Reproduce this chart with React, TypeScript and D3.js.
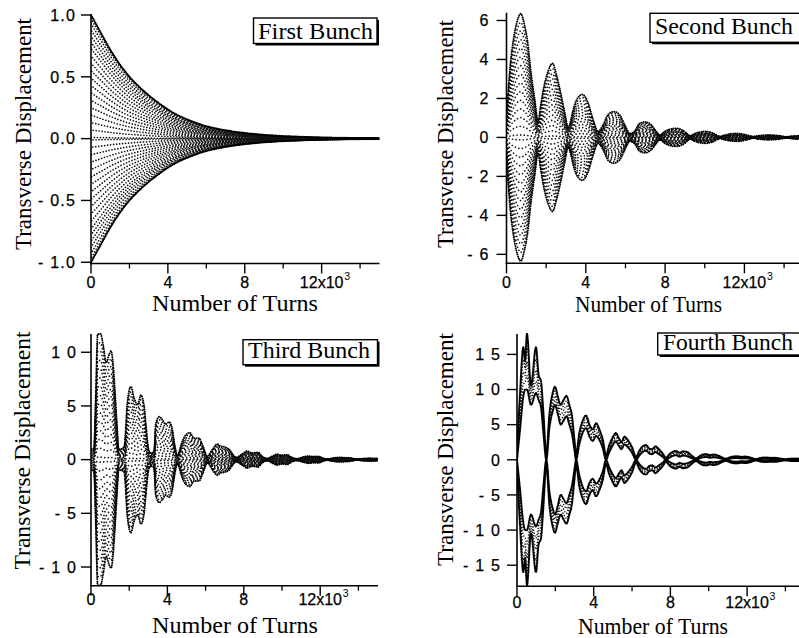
import React from "react";
import * as d3 from "d3";

const W = 799;
const H = 638;
const SERIF = "'Liberation Serif', 'Times New Roman', Times, serif";
const SANS = "'Liberation Sans', Arial, Helvetica, sans-serif";

// shared x axis
const xMajorTicks = [0, 4000, 8000, 12000];
const xMajorLabels = ["0", "4", "8", "12x10"];
const xMinorTicks = [2000, 6000, 10000, 14000];
const xExponent = "3";

// ---------- First bunch: decaying envelope ----------
const turns1 = [0, 500, 1000, 1500, 2000, 2500, 3000, 3500, 4000, 4500, 5000, 5500, 6000, 6500, 7000, 7500, 8000, 8500, 9000, 9500, 10000, 10500, 11000, 11500, 12000, 12500, 13000, 13500, 14000, 14500, 15000];
const env1 = [1.0, 0.86, 0.72, 0.6, 0.5, 0.42, 0.35, 0.29, 0.235, 0.19, 0.155, 0.125, 0.1, 0.082, 0.067, 0.055, 0.045, 0.037, 0.03, 0.025, 0.02, 0.017, 0.014, 0.011, 0.009, 0.0075, 0.006, 0.005, 0.004, 0.0035, 0.003];
const arcFractions1 = [0.97, 0.93, 0.88, 0.83, 0.78, 0.73, 0.67, 0.61, 0.55, 0.49, 0.43, 0.37, 0.31, 0.25, 0.19, 0.13, 0.07, 0.01];
const yTicks1 = [-1, -0.5, 0, 0.5, 1];
const yLabels1 = ["- 1.0", "- 0.5", "0.0", "0.5", "1.0"];

// ---------- Second bunch: beating envelope ----------
const turns2 = [0, 100, 200, 350, 550, 720, 900, 1050, 1250, 1430, 1590, 1720, 1850, 2100, 2320, 2520, 2770, 2950, 3110, 3250, 3360, 3610, 3830, 4120, 4370, 4620, 4870, 5130, 5410, 5710, 5970, 6220, 6470, 6720, 6980, 7310, 7560, 7730, 7980, 8250, 8540, 8820, 9050, 9250, 9500, 9750, 10000, 10300, 10550, 10760, 11000, 11300, 11600, 11900, 12200, 12440, 12700, 13000, 13300, 13600, 13900, 14100, 14400, 14700, 15000];
const env2 = [1.0, 2.5, 3.8, 5.0, 6.0, 6.35, 5.8, 5.0, 3.2, 1.9, 0.8, 1.6, 2.4, 3.4, 3.8, 3.2, 2.1, 1.2, 0.5, 0.9, 1.4, 2.05, 2.2, 1.75, 0.9, 0.3, 0.63, 1.18, 1.32, 1.15, 0.63, 0.2, 0.33, 0.72, 0.79, 0.63, 0.3, 0.12, 0.3, 0.42, 0.46, 0.4, 0.25, 0.08, 0.2, 0.27, 0.3, 0.26, 0.15, 0.05, 0.12, 0.18, 0.2, 0.17, 0.1, 0.04, 0.08, 0.11, 0.12, 0.1, 0.06, 0.03, 0.06, 0.08, 0.07];
const yTicks2 = [-6, -4, -2, 0, 2, 4, 6];
const yLabels2 = ["- 6", "- 4", "- 2", "0", "2", "4", "6"];

// ---------- Third bunch: double-peaked lobes ----------
const turns3 = [0, 150, 250, 350, 500, 650, 800, 950, 1050, 1150, 1250, 1350, 1450, 1600, 1740, 1910, 2090, 2260, 2440, 2610, 2780, 2870, 3010, 3130, 3300, 3390, 3570, 3740, 3910, 4090, 4260, 4380, 4520, 4780, 4960, 5180, 5390, 5650, 5860, 6090, 6350, 6610, 6780, 7040, 7250, 7430, 7600, 7880, 8170, 8440, 8750, 8960, 9220, 9480, 9740, 10000, 10260, 10520, 10780, 11130, 11390, 11650, 11910, 12170, 12350, 12700, 12960, 13300, 13570, 13910, 14260, 14610, 15000];
const env3 = [1.0, 1.0, 6.0, 11.7, 11.7, 10.5, 9.0, 9.8, 10.1, 9.0, 6.5, 3.5, 1.0, 1.0, 1.2, 5.4, 6.8, 5.7, 5.1, 6.0, 5.0, 3.3, 1.0, 0.6, 0.8, 3.3, 4.0, 3.7, 3.3, 3.5, 2.8, 1.4, 0.4, 1.7, 2.3, 2.5, 2.0, 2.0, 1.25, 0.3, 0.93, 1.45, 1.25, 1.15, 0.93, 0.47, 0.2, 0.47, 0.78, 0.62, 0.68, 0.3, 0.1, 0.3, 0.5, 0.4, 0.45, 0.2, 0.08, 0.25, 0.33, 0.28, 0.3, 0.12, 0.05, 0.15, 0.2, 0.18, 0.15, 0.04, 0.1, 0.12, 0.1];
const yTicks3 = [-10, -5, 0, 5, 10];
const yLabels3 = ["- 1 0", "- 5", "0", "5", "1 0"];

// ---------- Fourth bunch: outer and inner scalloped boundaries ----------
const turns4 = [0, 150, 330, 420, 520, 730, 990, 1130, 1250, 1370, 1530,
  1690, 1870, 1980, 2130, 2280, 2430, 2580, 2730, 2880, 2990, 3080,
  3250, 3420, 3600, 3780, 3950, 4120, 4300, 4480, 4640,
  4800, 4980, 5150, 5330, 5450, 5600, 5780, 6000, 6210,
  6380, 6550, 6730, 6900, 7050, 7220, 7400, 7600, 7770,
  7950, 8130, 8300, 8480, 8660, 8880, 9100, 9340,
  9520, 9700, 9880, 10060, 10240, 10450, 10680, 10900,
  11100, 11300, 11500, 11700, 11900, 12150, 12450,
  12650, 12850, 13050, 13250, 13450, 13700, 14000,
  14250, 14500, 14750, 15000];
const outer4 = [1, 9, 16, 14, 17.9, 10.5, 16, 12, 11.2, 7, 0.8,
  6.5, 9.6, 10.4, 9.0, 7.8, 8.5, 9.1, 7.8, 6.0, 3.0, 0.8,
  3.8, 5.5, 6.3, 5.0, 4.3, 5.2, 4.3, 2.8, 0.6,
  2.0, 3.1, 3.8, 3.0, 2.5, 3.3, 2.8, 1.8, 0.4,
  1.3, 1.9, 2.1, 1.6, 1.5, 1.9, 1.5, 0.9, 0.3,
  0.8, 1.15, 1.25, 1.0, 1.2, 1.1, 0.6, 0.2,
  0.5, 0.75, 0.8, 0.65, 0.75, 0.65, 0.35, 0.15,
  0.35, 0.48, 0.5, 0.42, 0.46, 0.35, 0.1,
  0.22, 0.3, 0.3, 0.27, 0.28, 0.2, 0.08,
  0.15, 0.18, 0.17, 0.12];
const inner4 = [0, 4, 9, 10, 10, 7.8, 9.5, 8.5, 7.5, 4, 0,
  4.5, 7.0, 7.8, 6.5, 5.0, 5.6, 6.2, 5.0, 3.5, 1.5, 0,
  2.2, 3.8, 4.5, 3.3, 2.7, 3.4, 2.8, 1.6, 0,
  1.0, 2.0, 2.6, 1.9, 1.5, 2.2, 1.8, 1.0, 0,
  0.6, 1.1, 1.3, 0.9, 0.8, 1.1, 0.8, 0.4, 0,
  0.3, 0.55, 0.65, 0.45, 0.6, 0.5, 0.25, 0,
  0.2, 0.35, 0.4, 0.3, 0.35, 0.3, 0.15, 0,
  0.15, 0.25, 0.25, 0.2, 0.22, 0.15, 0,
  0.1, 0.14, 0.14, 0.12, 0.13, 0.1, 0,
  0.06, 0.08, 0.08, 0.05];
const yTicks4 = [-15, -10, -5, 0, 5, 10, 15];
const yLabels4 = ["- 1 5", "- 1 0", "- 5", "0", "5", "1 0", "1 5"];

const fillFractions = [0.93, 0.86, 0.79, 0.72, 0.65, 0.58, 0.51, 0.44, 0.37, 0.3, 0.23, 0.16, 0.09, 0.02];
const bandFractions = [0.25, 0.5, 0.75];

type Pt = [number, number];

function scaled(turns: number[], env: number[], fracs: number[]): Pt[][] {
  const all: number[] = [];
  fracs.forEach((f) => {
    all.push(f);
    if (f !== 0) all.push(-f);
  });
  return all.map((f) => turns.map((t, i) => [t, f * env[i]] as Pt));
}

function band(turns: number[], inner: number[], outer: number[], fracs: number[]): Pt[][] {
  const out: Pt[][] = [];
  [1, -1].forEach((s) => {
    fracs.forEach((f) => {
      out.push(turns.map((t, i) => [t, s * (inner[i] + f * (outer[i] - inner[i]))] as Pt));
    });
  });
  return out;
}

type Legend = { x: number; y: number; w: number; h: number; tx: number; ty: number; text: string; len: number };
type Cfg = {
  id: string;
  xL: number;
  xR: number;
  axisEnd: number;
  top: number;
  bottom: number;
  yMin: number;
  yMax: number;
  yTicks: number[];
  yLabels: string[];
  yLabelGap: number;
  xLabelY: number;
  xTitleX: number;
  xTitleY: number;
  xTitleLen: number;
  yTitleX: number;
  yTitleY: number;
  yTitleLen: number;
  legend: Legend;
};

type StrokeStyle = { w: number; dash: string };

function Panel({ cfg, fill, edges, fillStyle, edgeStyle }: { cfg: Cfg; fill: Pt[][]; edges: Pt[][]; fillStyle: StrokeStyle; edgeStyle: StrokeStyle }) {
  const x = d3.scaleLinear().domain([0, 15000]).range([cfg.xL, cfg.xR]);
  const y = d3.scaleLinear().domain([cfg.yMin, cfg.yMax]).range([cfg.bottom, cfg.top]);
  const line = d3
    .line<Pt>()
    .x((d) => x(d[0]))
    .y((d) => y(d[1]))
    .curve(d3.curveMonotoneX);
  const clipId = `clip-${cfg.id}`;
  const lg = cfg.legend;
  return (
    <g>
      <defs>
        <clipPath id={clipId}>
          <rect x={cfg.xL} y={cfg.top - 1} width={cfg.axisEnd - cfg.xL} height={cfg.bottom - cfg.top + 1} />
        </clipPath>
      </defs>
      <g clipPath={`url(#${clipId})`}>
        {fill.map((s, i) => (
          <path
            key={`f${i}`}
            d={line(s) || ""}
            fill="none"
            stroke="#111"
            strokeWidth={fillStyle.w}
            strokeDasharray={fillStyle.dash}
            strokeDashoffset={(i * 1.37) % 4}
            strokeLinecap="round"
          />
        ))}
        {edges.map((s, i) => (
          <path
            key={`e${i}`}
            d={line(s) || ""}
            fill="none"
            stroke="#000"
            strokeWidth={edgeStyle.w}
            strokeDasharray={edgeStyle.dash}
            strokeDashoffset={i * 0.7}
            strokeLinecap="round"
          />
        ))}
      </g>
      {/* axes */}
      <line x1={cfg.xL} x2={cfg.xL} y1={cfg.top} y2={cfg.bottom + 0.75} stroke="#000" strokeWidth={1.6} />
      <line x1={cfg.xL - 0.8} x2={cfg.axisEnd} y1={cfg.bottom} y2={cfg.bottom} stroke="#000" strokeWidth={1.6} />
      {cfg.yTicks.map((t, i) => (
        <g key={`yt${i}`}>
          <line x1={cfg.xL - 10} x2={cfg.xL} y1={y(t)} y2={y(t)} stroke="#000" strokeWidth={1.4} />
          <text
            x={cfg.xL - cfg.yLabelGap}
            y={y(t)}
            dy="0.36em"
            textAnchor="end"
            fontFamily={SANS}
            fontSize={16}
            letterSpacing={1.2}
            stroke="#000"
            strokeWidth={0.25}
            fill="#000"
          >
            {cfg.yLabels[i]}
          </text>
        </g>
      ))}
      {xMajorTicks.map((t, i) => (
        <g key={`xt${i}`}>
          <line x1={x(t)} x2={x(t)} y1={cfg.bottom} y2={cfg.bottom + 10} stroke="#000" strokeWidth={1.4} />
          <text
            x={x(t)}
            y={cfg.xLabelY}
            textAnchor="middle"
            fontFamily={SANS}
            fontSize={16}
            stroke="#000"
            strokeWidth={0.25}
            fill="#000"
          >
            {xMajorLabels[i]}
          </text>
        </g>
      ))}
      <text x={x(12000) + 22.5} y={cfg.xLabelY - 8} fontFamily={SANS} fontSize={10.5} fill="#000">
        {xExponent}
      </text>
      {xMinorTicks.map((t, i) => (
        <line key={`xm${i}`} x1={x(t)} x2={x(t)} y1={cfg.bottom} y2={cfg.bottom + 5} stroke="#000" strokeWidth={1.3} />
      ))}
      {/* titles */}
      <text
        x={cfg.xTitleX}
        y={cfg.xTitleY}
        textAnchor="middle"
        fontFamily={SERIF}
        fontSize={23.5}
        textLength={cfg.xTitleLen}
        lengthAdjust="spacingAndGlyphs"
        fill="#000"
      >
        Number of Turns
      </text>
      <text
        transform={`translate(${cfg.yTitleX},${cfg.yTitleY}) rotate(-90)`}
        textAnchor="middle"
        fontFamily={SERIF}
        fontSize={23}
        textLength={cfg.yTitleLen}
        lengthAdjust="spacingAndGlyphs"
        fill="#000"
      >
        Transverse Displacement
      </text>
      {/* legend box */}
      <rect x={lg.x + 2} y={lg.y + 2} width={lg.w} height={lg.h} fill="#000" />
      <rect x={lg.x} y={lg.y} width={lg.w} height={lg.h} fill="#fff" stroke="#000" strokeWidth={1.4} />
      <text
        x={lg.tx}
        y={lg.ty}
        fontFamily={SERIF}
        fontSize={23.5}
        textLength={lg.len}
        lengthAdjust="spacingAndGlyphs"
        fill="#000"
      >
        {lg.text}
      </text>
    </g>
  );
}

const cfg1: Cfg = {
  id: "p1", xL: 91, xR: 379.3, axisEnd: 379.5, top: 14, bottom: 263.5, yMin: -1.01, yMax: 1.008,
  yTicks: yTicks1, yLabels: yLabels1, yLabelGap: 15, xLabelY: 287.5, xTitleX: 235, xTitleY: 311, xTitleLen: 166,
  yTitleX: 31, yTitleY: 134, yTitleLen: 232,
  legend: { x: 253.5, y: 18, w: 123.5, h: 25.5, tx: 258, ty: 38.5, text: "First Bunch", len: 115 },
};
const cfg2: Cfg = {
  id: "p2", xL: 506.5, xR: 803.9, axisEnd: 812, top: 12.7, bottom: 263.3, yMin: -6.46, yMax: 6.4,
  yTicks: yTicks2, yLabels: yLabels2, yLabelGap: 17, xLabelY: 287.5, xTitleX: 648.5, xTitleY: 312, xTitleLen: 147,
  yTitleX: 453, yTitleY: 134, yTitleLen: 228,
  legend: { x: 650, y: 13.3, w: 170, h: 29, tx: 655, ty: 34, text: "Second Bunch", len: 138 },
};
const cfg3: Cfg = {
  id: "p3", xL: 91, xR: 377.5, axisEnd: 378, top: 334, bottom: 585.7, yMin: -11.74, yMax: 11.7,
  yTicks: yTicks3, yLabels: yLabels3, yLabelGap: 14, xLabelY: 605, xTitleX: 235, xTitleY: 633, xTitleLen: 166,
  yTitleX: 29.5, yTitleY: 450.5, yTitleLen: 238,
  legend: { x: 243, y: 339.7, w: 134.5, h: 25, tx: 248, ty: 358, text: "Third Bunch", len: 122 },
};
const cfg4: Cfg = {
  id: "p4", xL: 517, xR: 804.6, axisEnd: 812, top: 334, bottom: 586.3, yMin: -18, yMax: 17.9,
  yTicks: yTicks4, yLabels: yLabels4, yLabelGap: 16, xLabelY: 608, xTitleX: 653, xTitleY: 634, xTitleLen: 150,
  yTitleX: 453, yTitleY: 449.5, yTitleLen: 233,
  legend: { x: 657.7, y: 333, w: 170, h: 22, tx: 663, ty: 350, text: "Fourth Bunch", len: 130 },
};

export default function App() {
  const fill1 = scaled(turns1, env1, arcFractions1);
  const edge1 = scaled(turns1, env1, [1]);
  const fill2 = scaled(turns2, env2, fillFractions);
  const edge2 = scaled(turns2, env2, [1]);
  const fill3 = scaled(turns3, env3, fillFractions);
  const edge3 = scaled(turns3, env3, [1]);
  const fill4 = band(turns4, inner4, outer4, bandFractions);
  const edge4 = [...band(turns4, inner4, outer4, [0]), ...band(turns4, inner4, outer4, [1])];
  return (
    <svg
      width={W}
      height={H}
      viewBox={`0 0 ${W} ${H}`}
      style={{ position: "fixed", left: 0, top: 0, background: "#fff" }}
    >
      <rect x={0} y={0} width={W} height={H} fill="#fff" />
      <Panel cfg={cfg1} fill={fill1} edges={edge1} fillStyle={{ w: 1.7, dash: "0 3" }} edgeStyle={{ w: 2.2, dash: "0 1.8" }} />
      <Panel cfg={cfg2} fill={fill2} edges={edge2} fillStyle={{ w: 1.7, dash: "0 3.6" }} edgeStyle={{ w: 2.0, dash: "0 2.2" }} />
      <Panel cfg={cfg3} fill={fill3} edges={edge3} fillStyle={{ w: 1.7, dash: "0 3.6" }} edgeStyle={{ w: 2.0, dash: "0 2.2" }} />
      <Panel cfg={cfg4} fill={fill4} edges={edge4} fillStyle={{ w: 1.6, dash: "0 3" }} edgeStyle={{ w: 2.2, dash: "0 1.6" }} />
    </svg>
  );
}
